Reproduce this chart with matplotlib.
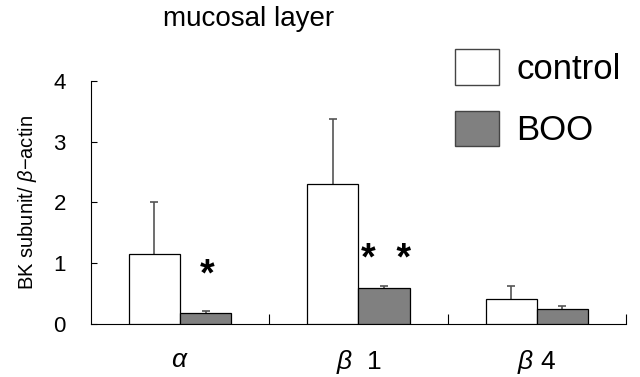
import matplotlib.pyplot as plt
import numpy as np
from matplotlib.patches import Patch

plt.rcParams['font.family'] = ['Liberation Sans', 'DejaVu Sans']
plt.rcParams['mathtext.fontset'] = 'custom'
plt.rcParams['mathtext.it'] = 'Liberation Sans:italic'
plt.rcParams['mathtext.rm'] = 'Liberation Sans'

# data
categories = [r"$\alpha$", r"$\beta$  1", r"$\beta$ 4"]
control_mean = [1.16, 2.30, 0.41]
control_err = [0.85, 1.07, 0.21]
boo_mean = [0.18, 0.60, 0.25]
boo_err = [0.04, 0.03, 0.04]
stars = ["*", "*  *", ""]

fig = plt.figure(figsize=(6.4, 3.77), dpi=100)
ax = fig.add_axes([0.142, 0.1406, 0.836, 0.6446])

x = np.arange(len(categories)) + 0.5
w = 0.287
ax.bar(x - w / 2, control_mean, w, color="white", edgecolor="black", linewidth=0.9,
       label="control", zorder=3)
ax.bar(x + w / 2, boo_mean, w, color="#808080", edgecolor="black", linewidth=0.9,
       label="BOO", zorder=3)

# upper error bars only (lower half hidden behind the bars)
ekw = dict(fmt="none", ecolor="#555555", elinewidth=1.2, capsize=3, capthick=1.2, zorder=2)
ax.errorbar(x - w / 2, control_mean, yerr=control_err, **ekw)
ax.errorbar(x + w / 2, boo_mean, yerr=boo_err, **ekw)

# significance marks
star_y = [0.80, 1.05]
for xi, s, yi in zip(x[:2], stars[:2], star_y):
    ax.text(xi + w / 2 + 0.01, yi, s, ha="center", va="center", fontsize=27, fontweight="bold")

ax.set_xlim(0, 3)
ax.set_ylim(0, 4)
ax.set_yticks([0, 1, 2, 3, 4])
ax.tick_params(axis="y", direction="in", length=4, labelsize=16, pad=18)
ax.set_xticks([1, 2, 3])
ax.set_xticklabels([])
ax.tick_params(axis="x", which="major", direction="in", length=7)
ax.set_xticks(x, minor=True)
ax.set_xticklabels(categories, minor=True, fontsize=19)
ax.tick_params(axis="x", which="minor", length=0, pad=17)

for sp in ["top", "right"]:
    ax.spines[sp].set_visible(False)

ax.set_ylabel(r"BK subunit/ $\beta$$-$actin", fontsize=14.5, labelpad=10)
fig.text(0.388, 0.93, "mucosal layer", ha="center", va="baseline", fontsize=20)

handles = [Patch(facecolor="white", edgecolor="#444444"),
           Patch(facecolor="#808080", edgecolor="#444444")]
fig.legend(handles, ["control", "BOO"], loc="upper left", bbox_to_anchor=(0.70, 0.888),
           frameon=False, fontsize=25, handlelength=1.27, handleheight=1.2,
           labelspacing=0.72, handletextpad=0.5, borderpad=0.2, borderaxespad=0)

fig.savefig("out.png", dpi=100)
